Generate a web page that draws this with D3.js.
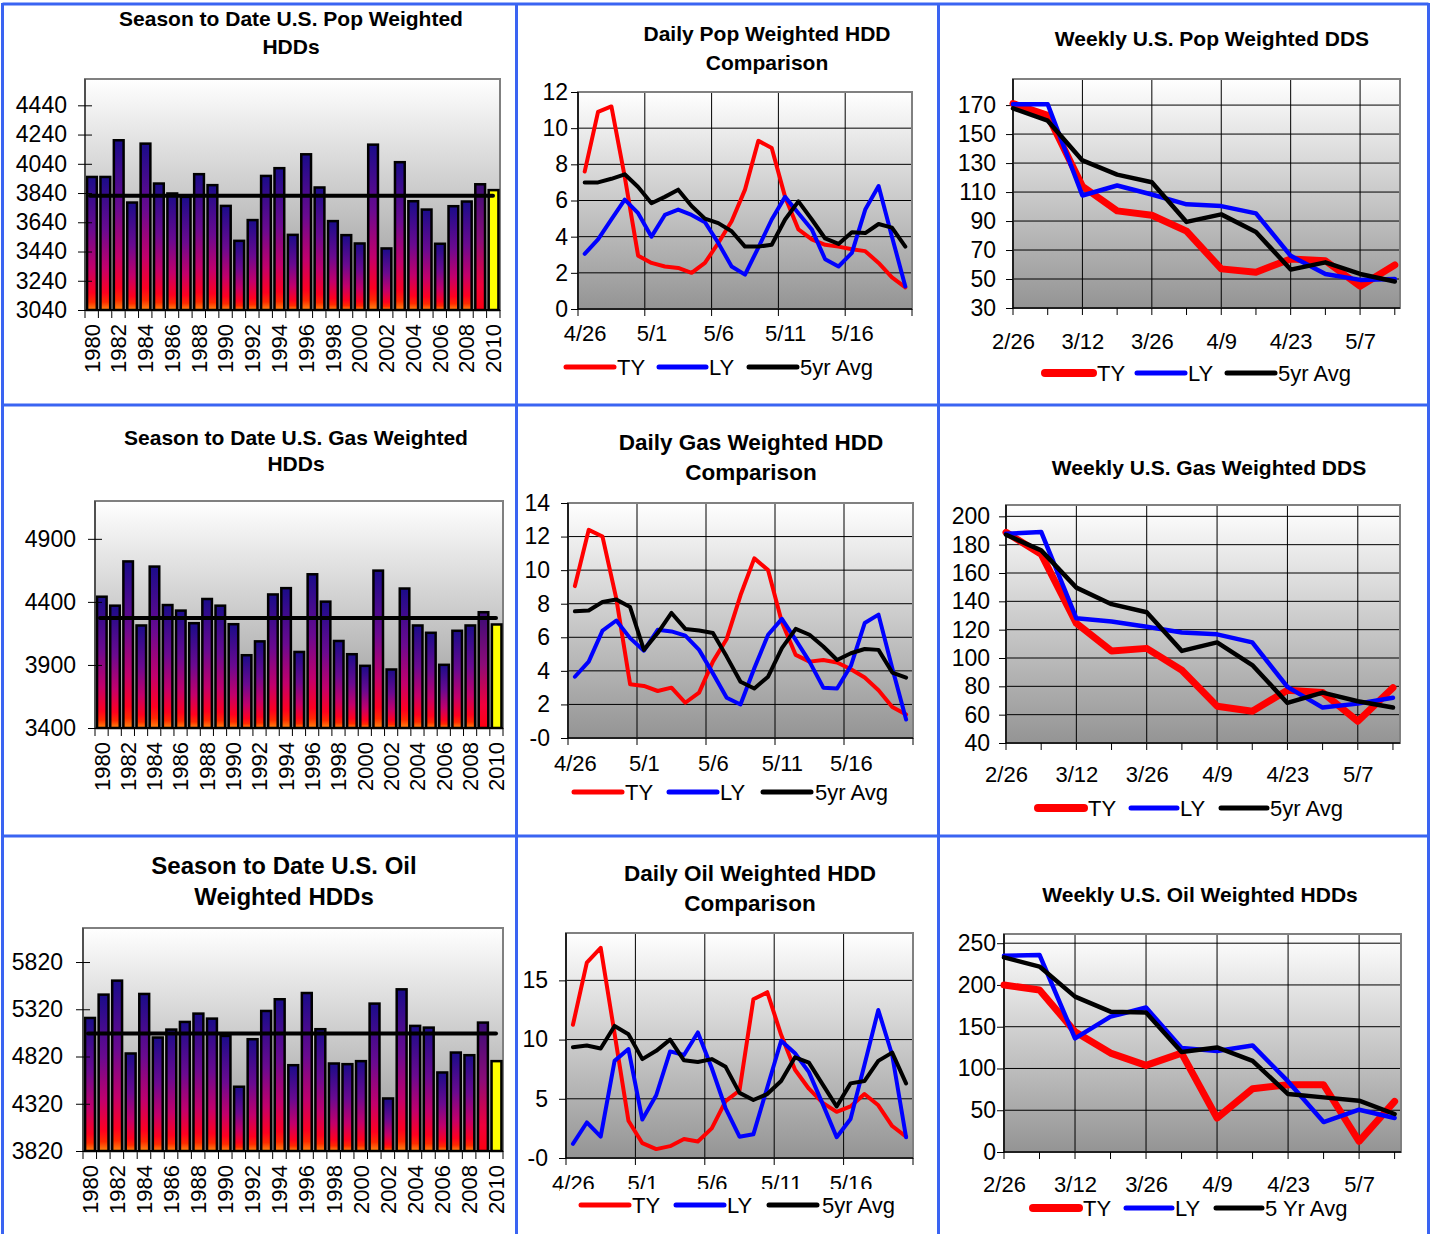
<!DOCTYPE html>
<html>
<head>
<meta charset="utf-8">
<script src="https://d3js.org/d3.v7.min.js"></script>
<style>
  body { margin: 0; background: #fff; }
  svg text { font-family: "Liberation Sans", Arial, sans-serif; fill: #000; }
</style>
</head>
<body>
<svg id="vis" width="1435" height="1234"></svg>
<script>
// ---- data ----
var years = [1980,1981,1982,1983,1984,1985,1986,1987,1988,1989,1990,1991,1992,1993,1994,1995,
             1996,1997,1998,1999,2000,2001,2002,2003,2004,2005,2006,2007,2008,2009,2010];
var yearLabels = [1980,1982,1984,1986,1988,1990,1992,1994,1996,1998,2000,2002,2004,2006,2008,2010];

var popSeason = [3950,3950,4201,3775,4178,3905,3837,3814,3969,3894,3752,3513,3655,3957,4010,3554,
                 4105,3878,3648,3552,3495,4171,3461,4051,3784,3727,3493,3750,3782,3900,3860];
var popSeasonAvg = 3821;
var popSeasonTicks = [3040,3240,3440,3640,3840,4040,4240,4440];

var gasSeason = [4441,4370,4721,4213,4680,4375,4331,4231,4423,4370,4223,3977,4087,4459,4509,4003,
                 4619,4402,4090,3985,3893,4648,3864,4506,4213,4155,3901,4171,4213,4318,4221];
var gasSeasonAvg = 4273;
var gasSeasonTicks = [3400,3900,4400,4900];

var oilSeason = [5228,5475,5623,4852,5482,5021,5105,5186,5274,5221,5038,4500,5003,5302,5426,4728,
                 5492,5109,4746,4739,4771,5380,4376,5531,5144,5126,4651,4862,4834,5179,4771];
var oilSeasonAvg = 5063;
var oilSeasonTicks = [3820,4320,4820,5320,5820];

var dailyDates = ['4/26','4/27','4/28','4/29','4/30','5/1','5/2','5/3','5/4','5/5','5/6','5/7','5/8',
                  '5/9','5/10','5/11','5/12','5/13','5/14','5/15','5/16','5/17','5/18','5/19','5/20'];
var dailyLabelIdx = [0,5,10,15,20];

var dailyPopTY  = [7.6,10.9,11.2,7.3,2.95,2.55,2.35,2.27,2.0,2.55,3.65,4.85,6.6,9.3,8.9,6.2,4.4,3.85,3.55,3.45,3.3,3.2,2.55,1.75,1.2];
var dailyPopLY  = [3.05,3.85,4.95,6.05,5.3,4.0,5.2,5.5,5.2,4.8,3.65,2.35,1.9,3.4,4.95,6.2,5.3,4.4,2.75,2.35,3.1,5.5,6.8,4.0,1.25];
var dailyPop5yr = [7.0,7.0,7.2,7.45,6.75,5.85,6.2,6.6,5.7,5.0,4.75,4.3,3.45,3.45,3.55,4.95,5.95,4.95,3.9,3.6,4.25,4.2,4.7,4.5,3.45];
var dailyPopTicks = [0,2,4,6,8,10,12];
var dailyPopTickLabels = ['0','2','4','6','8','10','12'];

var dailyGasTY  = [9.05,12.4,12.0,8.3,3.2,3.1,2.8,3.0,2.1,2.7,4.55,5.9,8.5,10.7,10.0,6.9,4.95,4.55,4.65,4.5,4.1,3.6,2.85,1.85,1.4];
var dailyGasLY  = [3.65,4.55,6.4,7.0,5.95,5.2,6.45,6.35,6.1,5.25,3.85,2.4,2.0,4.15,6.15,7.1,5.85,4.55,3.0,2.95,4.3,6.85,7.35,4.15,1.1];
var dailyGas5yr = [7.55,7.6,8.1,8.25,7.8,5.25,6.25,7.45,6.5,6.4,6.25,4.85,3.35,2.95,3.65,5.35,6.5,6.15,5.45,4.65,5.05,5.3,5.25,3.9,3.6];
var dailyGasTicks = [0,2,4,6,8,10,12,14];
var dailyGasTickLabels = ['-0','2','4','6','8','10','12','14'];

var dailyOilTY  = [11.25,16.5,17.75,10.5,3.15,1.25,0.75,1.0,1.6,1.4,2.5,4.8,5.7,13.4,14.0,10.4,7.45,5.85,4.65,3.9,4.35,5.4,4.45,2.7,1.8];
var dailyOilLY  = [1.2,3.0,1.8,8.2,9.2,3.25,5.3,9.0,8.7,10.6,7.6,4.2,1.8,2.0,5.95,9.9,8.85,7.25,4.55,1.75,3.3,7.85,12.5,8.7,1.75];
var dailyOil5yr = [9.35,9.5,9.25,11.15,10.45,8.35,9.05,10.0,8.25,8.1,8.35,7.7,5.5,4.9,5.4,6.5,8.5,8.05,6.2,4.35,6.3,6.5,8.2,8.9,6.3];
var dailyOilTicks = [0,5,10,15];
var dailyOilTickLabels = ['-0','5','10','15'];

var weeklyDates = ['2/26','3/5','3/12','3/19','3/26','4/2','4/9','4/16','4/23','4/30','5/7','5/14'];
var weeklyLabelIdx = [0,2,4,6,8,10];

var weeklyPopTY  = [171,163,114,97,94,83,57,54.7,63.8,62.6,45,59.7];
var weeklyPopLY  = [170.6,170.6,107.6,114.5,108.3,101.5,100.3,95.3,66,53.5,49.4,50];
var weeklyPop5yr = [167.7,159.2,131.8,122,116.8,89.4,94.6,82.5,56.5,61.5,53.5,48.3];
var weeklyPopTicks = [30,50,70,90,110,130,150,170];

var weeklyGasTY  = [188.7,173.3,124.5,105,106.8,91.4,66,62.4,77.3,75.6,55.3,79];
var weeklyGasLY  = [187.7,189,128,125.7,122,118,116.7,111,79.6,65,67.8,71.9];
var weeklyGas5yr = [187,176,149.7,138,132.3,105,111,95,68.3,75.6,69.5,65];
var weeklyGasTicks = [40,60,80,100,120,140,160,180,200];

var weeklyOilTY  = [200,194,144,118.4,103.7,118.4,40.7,75.8,80.5,80.5,12.8,60.6];
var weeklyOilLY  = [235,236,136,162,173,124.4,121,127.6,84.5,35.9,50.6,40.7];
var weeklyOil5yr = [233,222,186,168,167,119.6,125.2,109.2,69.4,65.4,61.4,45.5];
var weeklyOilTicks = [0,50,100,150,200,250];

// ---- drawing ----
var svg = d3.select('#vis');
var defs = svg.append('defs');

var bg = defs.append('linearGradient').attr('id', 'plotBg').attr('x1', 0).attr('y1', 0).attr('x2', 0).attr('y2', 1);
bg.append('stop').attr('offset', 0).attr('stop-color', '#ffffff');
bg.append('stop').attr('offset', 1).attr('stop-color', '#949494');

var bar = defs.append('linearGradient').attr('id', 'barFill').attr('x1', 0).attr('y1', 0).attr('x2', 0).attr('y2', 1);
[[0,'#1a0c8a'],[0.4,'#6a0a90'],[0.68,'#c2006c'],[0.87,'#ff0020'],[0.94,'#ff2a00'],[1,'#ff8a10']].forEach(function(s) {
  bar.append('stop').attr('offset', s[0]).attr('stop-color', s[1]);
});
var bar2 = defs.append('linearGradient').attr('id', 'barFill2').attr('x1', 0).attr('y1', 0).attr('x2', 0).attr('y2', 1);
[[0,'#3a0c78'],[0.45,'#8c0c78'],[0.8,'#f0003c'],[1,'#ff0010']].forEach(function(s) {
  bar2.append('stop').attr('offset', s[0]).attr('stop-color', s[1]);
});

function title(lines, cx, ys, size) {
  lines.forEach(function(t, i) {
    svg.append('text').attr('x', cx).attr('y', ys[i]).attr('text-anchor', 'middle')
      .attr('font-weight', 'bold').attr('font-size', size).text(t);
  });
}

function styleAxis(g, size) {
  g.select('.domain').remove();
  g.selectAll('.tick line').attr('stroke', '#000');
  g.selectAll('.tick text').attr('font-size', size).attr('fill', '#000');
}

function drawBars(cfg) {
  var g = svg.append('g');
  var x = d3.scaleBand().domain(years).range([cfg.x0, cfg.x1]).paddingInner(0.16).paddingOuter(0.08);
  var y = d3.scaleLinear().domain(cfg.domain).range([cfg.y1, cfg.y0]);
  var step = x.step();

  g.append('rect').attr('x', cfg.x0).attr('y', cfg.y0).attr('width', cfg.x1 - cfg.x0)
    .attr('height', cfg.y1 - cfg.y0).attr('fill', 'url(#plotBg)').attr('stroke', '#808080').attr('stroke-width', 2);

  g.selectAll('rect.bar').data(cfg.values).enter().append('rect').attr('class', 'bar')
    .attr('x', function(d, i) { return x(years[i]) + 1; })
    .attr('width', x.bandwidth() - 1.5)
    .attr('y', function(d) { return y(d); })
    .attr('height', function(d) { return cfg.y1 - y(d); })
    .attr('fill', function(d, i) {
      if (years[i] === 2010) return '#ffff00';
      if (years[i] === 2009) return 'url(#barFill2)';
      return 'url(#barFill)';
    })
    .attr('stroke', '#000').attr('stroke-width', 2.5);

  g.append('line').attr('x1', cfg.x0 + 5).attr('x2', cfg.x1 - 7)
    .attr('y1', y(cfg.avg)).attr('y2', y(cfg.avg))
    .attr('stroke', '#000').attr('stroke-width', 4).attr('stroke-linecap', 'round');

  g.append('line').attr('x1', cfg.x0).attr('x2', cfg.x1).attr('y1', cfg.y1).attr('y2', cfg.y1)
    .attr('stroke', '#000').attr('stroke-width', 2);
  g.append('line').attr('x1', cfg.x0).attr('x2', cfg.x0).attr('y1', cfg.y0).attr('y2', cfg.y1)
    .attr('stroke', '#404040').attr('stroke-width', 1.5);

  var ya = g.append('g').attr('transform', 'translate(' + cfg.x0 + ',0)')
    .call(d3.axisLeft(y).tickValues(cfg.ticks).tickSize(7).tickPadding(cfg.yPad).tickFormat(d3.format('d')));
  styleAxis(ya, 23);
  ya.selectAll('.tick line').attr('x1', 7);

  // ticks at category boundaries
  g.selectAll('line.xt').data(years.concat(['end'])).enter().append('line').attr('class', 'xt')
    .attr('x1', function(d, i) { return cfg.x0 + i * step; })
    .attr('x2', function(d, i) { return cfg.x0 + i * step; })
    .attr('y1', cfg.y1).attr('y2', cfg.y1 + 8).attr('stroke', '#000').attr('stroke-width', 1);

  var xa = g.append('g').attr('transform', 'translate(0,' + cfg.y1 + ')')
    .call(d3.axisBottom(x).tickValues(yearLabels).tickSize(0));
  styleAxis(xa, 22);
  xa.selectAll('.tick text').attr('transform', 'rotate(-90)').attr('x', -14).attr('y', 0)
    .attr('dy', '0.36em').attr('text-anchor', 'end');

  title(cfg.title, cfg.tx, cfg.ty, cfg.tsize);
}

function drawLines(cfg) {
  var g = svg.append('g');
  var y = d3.scaleLinear().domain(cfg.domain).range([cfg.y1, cfg.y0]);
  var pos, gridX, tickX, labelPos, labels;
  if (cfg.daily) {
    var band = d3.scaleBand().domain(dailyDates).range([cfg.x0, cfg.x1]);
    pos = function(i) { return band(dailyDates[i]) + band.bandwidth() / 2; };
    gridX = [5, 10, 15, 20].map(function(k) { return band(dailyDates[k]); });
    tickX = [0, 5, 10, 15, 20].map(function(k) { return band(dailyDates[k]); }).concat([cfg.x1]);
    labelPos = dailyLabelIdx.map(pos);
    labels = dailyLabelIdx.map(function(k) { return dailyDates[k]; });
  } else {
    var lin = d3.scaleLinear().domain([0, cfg.xMax]).range([cfg.x0, cfg.x1]);
    pos = function(i) { return lin(i); };
    gridX = [2, 4, 6, 8, 10].map(lin);
    tickX = weeklyDates.map(function(d, i) { return lin(i); });
    labelPos = weeklyLabelIdx.map(lin);
    labels = weeklyLabelIdx.map(function(k) { return weeklyDates[k]; });
  }

  g.append('rect').attr('x', cfg.x0).attr('y', cfg.y0).attr('width', cfg.x1 - cfg.x0)
    .attr('height', cfg.y1 - cfg.y0).attr('fill', 'url(#plotBg)');

  g.selectAll('line.hg').data(cfg.ticks).enter().append('line').attr('class', 'hg')
    .attr('x1', cfg.x0).attr('x2', cfg.x1)
    .attr('y1', function(d) { return y(d); }).attr('y2', function(d) { return y(d); })
    .attr('stroke', '#000').attr('stroke-width', 1);
  g.selectAll('line.vg').data(gridX).enter().append('line').attr('class', 'vg')
    .attr('x1', function(d) { return d; }).attr('x2', function(d) { return d; })
    .attr('y1', cfg.y0).attr('y2', cfg.y1).attr('stroke', '#000').attr('stroke-width', 1);

  g.append('rect').attr('x', cfg.x0).attr('y', cfg.y0).attr('width', cfg.x1 - cfg.x0)
    .attr('height', cfg.y1 - cfg.y0).attr('fill', 'none').attr('stroke', '#808080').attr('stroke-width', 2);
  g.append('line').attr('x1', cfg.x0).attr('x2', cfg.x1).attr('y1', cfg.y1).attr('y2', cfg.y1)
    .attr('stroke', '#000').attr('stroke-width', 1.5);
  g.append('line').attr('x1', cfg.x0).attr('x2', cfg.x0).attr('y1', cfg.y0).attr('y2', cfg.y1)
    .attr('stroke', '#000').attr('stroke-width', 1.5);

  var ya = g.append('g').attr('transform', 'translate(' + cfg.x0 + ',0)')
    .call(d3.axisLeft(y).tickValues(cfg.ticks).tickSize(7).tickPadding(cfg.yPad)
      .tickFormat(function(d, i) { return cfg.tickLabels ? cfg.tickLabels[i] : d; }));
  styleAxis(ya, 23);

  g.selectAll('line.xt').data(tickX).enter().append('line').attr('class', 'xt')
    .attr('x1', function(d) { return d; }).attr('x2', function(d) { return d; })
    .attr('y1', cfg.y1).attr('y2', cfg.y1 + 7).attr('stroke', '#000').attr('stroke-width', 1);

  var lx = d3.scalePoint().domain(labels).range([labelPos[0], labelPos[labelPos.length - 1]]);
  var xa = g.append('g').attr('transform', 'translate(0,' + cfg.y1 + ')')
    .call(d3.axisBottom(lx).tickSize(0).tickPadding(cfg.xPad));
  styleAxis(xa, 22);

  var line = d3.line().x(function(d, i) { return pos(i); }).y(function(d) { return y(d); });
  cfg.series.forEach(function(s) {
    g.append('path').datum(s.values).attr('d', line).attr('fill', 'none')
      .attr('stroke', s.color).attr('stroke-width', s.width)
      .attr('stroke-linejoin', 'round').attr('stroke-linecap', 'round');
  });

  if (cfg.legendBg) {
    g.append('rect').attr('x', cfg.legendBg[0]).attr('y', cfg.legendBg[1])
      .attr('width', cfg.legendBg[2]).attr('height', cfg.legendBg[3]).attr('fill', '#fff');
  }
  cfg.series.forEach(function(s, i) {
    var L = cfg.legend[i];
    g.append('line').attr('x1', L[0]).attr('x2', L[1]).attr('y1', cfg.ly).attr('y2', cfg.ly)
      .attr('stroke', s.color).attr('stroke-width', s.lw).attr('stroke-linecap', 'round');
    g.append('text').attr('x', L[2]).attr('y', cfg.ly + 8).attr('font-size', 22).text(s.name);
  });

  title(cfg.title, cfg.tx, cfg.ty, cfg.tsize);
}

function trio(ty, ly, avg, avgName, weekly) {
  return [
    { name: 'TY', values: ty, color: '#ff0000', width: weekly ? 7 : 4, lw: weekly ? 8 : 5 },
    { name: 'LY', values: ly, color: '#0000ff', width: weekly ? 4.5 : 4, lw: 5 },
    { name: avgName, values: avg, color: '#000000', width: weekly ? 4.5 : 4, lw: 5 }
  ];
}

drawBars({ x0: 85, x1: 500, y0: 79, y1: 310, domain: [3040, 4620], ticks: popSeasonTicks, yPad: 11,
  values: popSeason, avg: popSeasonAvg,
  title: ['Season to Date U.S. Pop Weighted', 'HDDs'], tx: 291, ty: [26, 53.5], tsize: 21 });
drawBars({ x0: 95, x1: 503, y0: 501, y1: 728, domain: [3400, 5200], ticks: gasSeasonTicks, yPad: 12,
  values: gasSeason, avg: gasSeasonAvg,
  title: ['Season to Date U.S. Gas Weighted', 'HDDs'], tx: 296, ty: [444.5, 471], tsize: 21 });
drawBars({ x0: 83, x1: 503, y0: 928, y1: 1151, domain: [3820, 6180], ticks: oilSeasonTicks, yPad: 13,
  values: oilSeason, avg: oilSeasonAvg,
  title: ['Season to Date U.S. Oil', 'Weighted HDDs'], tx: 284, ty: [874, 905], tsize: 24 });

drawLines({ daily: true, x0: 578, x1: 912, y0: 92, y1: 309, domain: [0, 12], ticks: dailyPopTicks,
  tickLabels: dailyPopTickLabels, yPad: 3, xPad: 16,
  series: trio(dailyPopTY, dailyPopLY, dailyPop5yr, '5yr Avg', false),
  ly: 367, legend: [[566, 614, 617], [659, 706, 709], [749, 797, 800]],
  title: ['Daily Pop Weighted HDD', 'Comparison'], tx: 767, ty: [41, 69.5], tsize: 21 });
drawLines({ daily: true, x0: 568, x1: 913, y0: 503, y1: 738, domain: [0, 14], ticks: dailyGasTicks,
  tickLabels: dailyGasTickLabels, yPad: 11, xPad: 17,
  series: trio(dailyGasTY, dailyGasLY, dailyGas5yr, '5yr Avg', false),
  ly: 792, legend: [[574, 622, 625], [669, 717, 720], [763, 811, 815]],
  title: ['Daily Gas Weighted HDD', 'Comparison'], tx: 751, ty: [450, 480], tsize: 22.5 });
drawLines({ daily: true, x0: 566, x1: 913, y0: 933, y1: 1158, domain: [0, 19], ticks: dailyOilTicks,
  tickLabels: dailyOilTickLabels, yPad: 11, xPad: 17,
  series: trio(dailyOilTY, dailyOilLY, dailyOil5yr, '5yr Avg', false),
  legendBg: [560, 1189, 350, 40],
  ly: 1205, legend: [[581, 629, 632], [676, 724, 727], [769, 817, 822]],
  title: ['Daily Oil Weighted HDD', 'Comparison'], tx: 750, ty: [881, 911], tsize: 22.5 });

drawLines({ daily: false, xMax: 11.15, x0: 1013, x1: 1400, y0: 79, y1: 308, domain: [30, 188],
  ticks: weeklyPopTicks, yPad: 10, xPad: 25,
  series: trio(weeklyPopTY, weeklyPopLY, weeklyPop5yr, '5yr Avg', true),
  ly: 373, legend: [[1045, 1093, 1097], [1137, 1185, 1188], [1227, 1275, 1278]],
  title: ['Weekly U.S. Pop Weighted DDS'], tx: 1212, ty: [46], tsize: 21 });
drawLines({ daily: false, xMax: 11.2, x0: 1006, x1: 1400, y0: 505, y1: 743, domain: [40, 208],
  ticks: weeklyGasTicks, yPad: 9, xPad: 23,
  series: trio(weeklyGasTY, weeklyGasLY, weeklyGas5yr, '5yr Avg', true),
  ly: 808, legend: [[1038, 1084, 1088], [1131, 1177, 1180], [1221, 1267, 1270]],
  title: ['Weekly U.S. Gas Weighted DDS'], tx: 1209, ty: [474.5], tsize: 21 });
drawLines({ daily: false, xMax: 11.18, x0: 1004, x1: 1401, y0: 934, y1: 1152, domain: [0, 261],
  ticks: weeklyOilTicks, yPad: 1, xPad: 24,
  series: trio(weeklyOilTY, weeklyOilLY, weeklyOil5yr, '5 Yr Avg', true),
  ly: 1208, legend: [[1033, 1079, 1083], [1126, 1172, 1175], [1216, 1262, 1265]],
  title: ['Weekly U.S. Oil Weighted HDDs'], tx: 1200, ty: [901.5], tsize: 21 });

// panel frame
var frameColor = '#3a64f2';
[[2.5, 3, 2.5, 1234], [516.5, 3, 516.5, 1234], [938.5, 3, 938.5, 1234], [1428.5, 3, 1428.5, 1234],
 [2.5, 4, 1428.5, 4], [2.5, 405, 1428.5, 405], [2.5, 836, 1428.5, 836]].forEach(function(l) {
  svg.append('line').attr('x1', l[0]).attr('y1', l[1]).attr('x2', l[2]).attr('y2', l[3])
    .attr('stroke', frameColor).attr('stroke-width', 3);
});
</script>
</body>
</html>
